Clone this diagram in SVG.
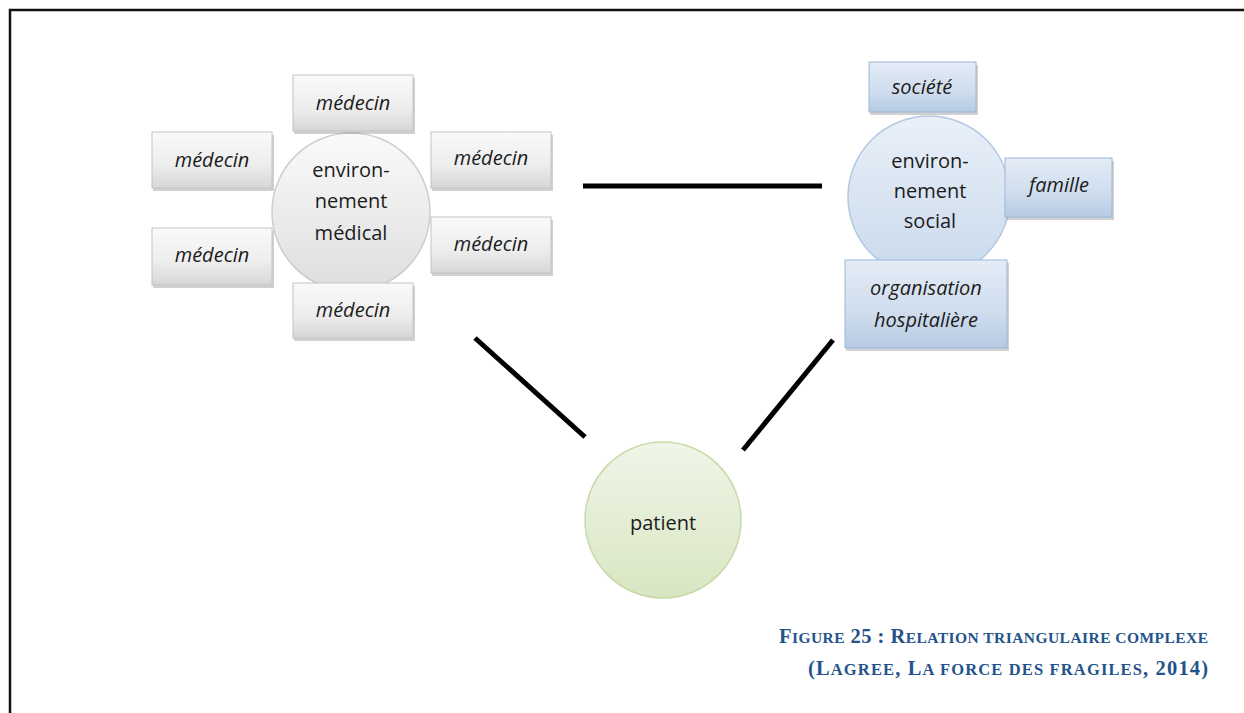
<svg xmlns="http://www.w3.org/2000/svg" width="1244" height="713" viewBox="0 0 1244 713">
<style>
.lbl{font-family:"Open Sans","Liberation Sans",sans-serif;font-size:20px;fill:#1c1c1c;text-anchor:middle}
.it{font-style:italic}
.gbox{fill:url(#gGray);stroke:#C4C4C4;stroke-width:1}
.bbox{fill:url(#gBlue);stroke:#9DB7D8;stroke-width:1}
.shadow{fill:#9a9a9a;opacity:0.45}
.conn{stroke:#000;stroke-width:5;fill:none}
.cap{font-family:"Liberation Serif","Times New Roman",serif;font-weight:bold;fill:#24528A}
.big{font-size:20.5px}
.sm{font-size:15.5px}
.sm2{font-size:16.5px}
</style>
<defs>
<linearGradient id="gGray" x1="0" y1="0" x2="0" y2="1">
<stop offset="0" stop-color="#FAFAFA"/><stop offset="0.6" stop-color="#EDEDED"/><stop offset="1" stop-color="#D6D6D6"/>
</linearGradient>
<linearGradient id="gBlue" x1="0" y1="0" x2="0" y2="1">
<stop offset="0" stop-color="#E4ECF6"/><stop offset="0.6" stop-color="#CFDDEE"/><stop offset="1" stop-color="#B5CAE3"/>
</linearGradient>
<linearGradient id="cGray" x1="0" y1="0" x2="0" y2="1">
<stop offset="0" stop-color="#FAFAFA"/><stop offset="1" stop-color="#DEDEDE"/>
</linearGradient>
<linearGradient id="cBlue" x1="0" y1="0" x2="0" y2="1">
<stop offset="0" stop-color="#E9F0F8"/><stop offset="1" stop-color="#C9D9EC"/>
</linearGradient>
<linearGradient id="cGreen" x1="0" y1="0" x2="0" y2="1">
<stop offset="0" stop-color="#F0F5E8"/><stop offset="1" stop-color="#D8E6C2"/>
</linearGradient>
</defs>
<rect width="1244" height="713" fill="#fff"/>
<path d="M10,713 V10 H1244" fill="none" stroke="#111" stroke-width="2.5"/>

<g id="connectors">
<line class="conn" x1="583" y1="186" x2="822" y2="186"/>
<line class="conn" x1="475" y1="338" x2="585" y2="437"/>
<line class="conn" x1="833" y1="340" x2="743" y2="450"/>
</g>

<g id="env-medical">
<circle cx="351" cy="212" r="79" fill="url(#cGray)" stroke="#CDCDCD" stroke-width="1.5"/>
<text class="lbl" x="351" y="177">environ-</text>
<text class="lbl" x="351" y="208">nement</text>
<text class="lbl" x="351" y="240">médical</text>
</g>
<g id="med-top">
<rect class="shadow" x="294" y="78" width="121" height="56"/>
<rect class="gbox" x="293" y="75" width="120" height="56"/>
<text class="lbl it" x="353" y="110">médecin</text>
</g>
<g id="med-left-top">
<rect class="shadow" x="153" y="135" width="121" height="56"/>
<rect class="gbox" x="152" y="132" width="120" height="56"/>
<text class="lbl it" x="212" y="167">médecin</text>
</g>
<g id="med-right-top">
<rect class="shadow" x="432" y="135" width="121" height="56"/>
<rect class="gbox" x="431" y="132" width="120" height="56"/>
<text class="lbl it" x="491" y="165">médecin</text>
</g>
<g id="med-left-bottom">
<rect class="shadow" x="153" y="231" width="121" height="57"/>
<rect class="gbox" x="152" y="228" width="120" height="57"/>
<text class="lbl it" x="212" y="262">médecin</text>
</g>
<g id="med-right-bottom">
<rect class="shadow" x="432" y="220" width="121" height="56"/>
<rect class="gbox" x="431" y="217" width="120" height="56"/>
<text class="lbl it" x="491" y="251">médecin</text>
</g>
<g id="med-bottom">
<rect class="shadow" x="294" y="286" width="121" height="55"/>
<rect class="gbox" x="293" y="283" width="120" height="55"/>
<text class="lbl it" x="353" y="317">médecin</text>
</g>

<g id="env-social">
<circle cx="929" cy="197" r="81" fill="url(#cBlue)" stroke="#B3C8E2" stroke-width="1.5"/>
<text class="lbl" x="930" y="168">environ-</text>
<text class="lbl" x="930" y="198">nement</text>
<text class="lbl" x="930" y="228">social</text>
</g>
<g id="societe">
<rect class="shadow" x="870" y="65" width="108" height="50"/>
<rect class="bbox" x="869" y="62" width="107" height="50"/>
<text class="lbl it" x="922" y="94">société</text>
</g>
<g id="famille">
<rect class="shadow" x="1006" y="161" width="108" height="59"/>
<rect class="bbox" x="1005" y="158" width="107" height="59"/>
<text class="lbl it" x="1059" y="192">famille</text>
</g>
<g id="organisation">
<rect class="shadow" x="846" y="263" width="163" height="88"/>
<rect class="bbox" x="845" y="260" width="162" height="88"/>
<text class="lbl it" x="926" y="295">organisation</text>
<text class="lbl it" x="926" y="327">hospitalière</text>
</g>

<g id="patient">
<circle cx="663" cy="520" r="78" fill="url(#cGreen)" stroke="#C8D9A8" stroke-width="1.5"/>
<text class="lbl" x="663" y="530">patient</text>
</g>

<g id="caption">
<text class="cap" x="779" y="643" textLength="429" lengthAdjust="spacing"><tspan class="big">F</tspan><tspan class="sm">IGURE</tspan><tspan class="big"> 25 : R</tspan><tspan class="sm">ELATION TRIANGULAIRE COMPLEXE</tspan></text>
<text class="cap" x="808" y="675" textLength="400" lengthAdjust="spacing"><tspan class="big">(L</tspan><tspan class="sm2">AGREE</tspan><tspan class="big">, L</tspan><tspan class="sm2">A FORCE DES FRAGILES</tspan><tspan class="big">, 2014)</tspan></text>
</g>
</svg>
